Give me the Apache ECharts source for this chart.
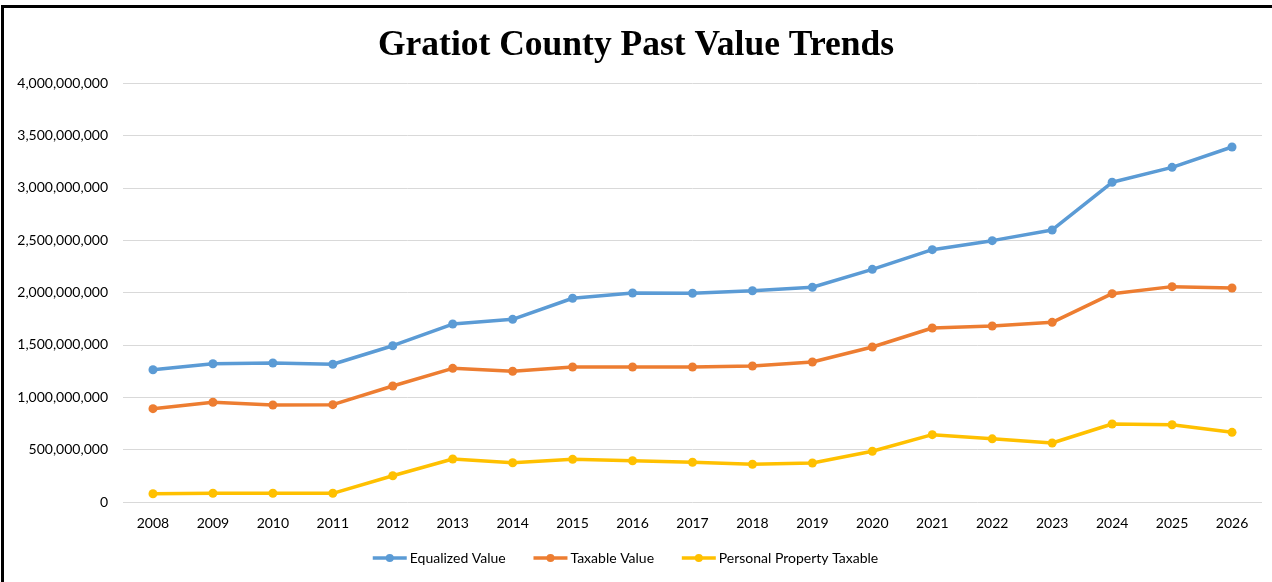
<!DOCTYPE html>
<html>
<head>
<meta charset="utf-8">
<script src="https://cdn.jsdelivr.net/npm/echarts@6/dist/echarts.min.js"></script>
<style>
  html, body { margin: 0; padding: 0; background: #fff; }
  #frame { position: absolute; left: 1px; top: 5px; width: 1300px; height: 600px; border-left: 3px solid #000; border-top: 3px solid #000; box-sizing: border-box; }
  #chart { position: absolute; left: 0; top: 0; width: 1272px; height: 582px; }
</style>
</head>
<body>
<div id="frame"></div>
<div id="chart"></div>
<script>
const years = ['2008', '2009', '2010', '2011', '2012', '2013', '2014', '2015', '2016', '2017',
  '2018', '2019', '2020', '2021', '2022', '2023', '2024', '2025', '2026'];

// values in dollars
const equalizedValue = [1263e6, 1320e6, 1327e6, 1315e6, 1492e6, 1699e6, 1744e6, 1945e6, 1995e6, 1993e6,
  2017e6, 2050e6, 2221e6, 2409e6, 2495e6, 2597e6, 3052e6, 3195e6, 3389e6];
const taxableValue = [891e6, 952e6, 926e6, 929e6, 1107e6, 1276e6, 1248e6, 1289e6, 1289e6, 1289e6,
  1298e6, 1337e6, 1480e6, 1661e6, 1680e6, 1715e6, 1989e6, 2056e6, 2043e6];
const personalProperty = [79e6, 83e6, 83e6, 83e6, 251e6, 410e6, 375e6, 407e6, 394e6, 379e6,
  360e6, 372e6, 484e6, 643e6, 603e6, 563e6, 745e6, 738e6, 665e6];

const seriesNames = ['Equalized Value', 'Taxable Value', 'Personal Property Taxable'];
const colors = ['#5B9BD5', '#ED7D31', '#FFC000'];

const myChart = echarts.init(document.getElementById('chart'));

const fmt = v => v.toLocaleString('en-US');
const labelFont = 'Lato, "Noto Sans", sans-serif';

const mkSeries = (name, data, color) => ({
  name,
  type: 'line',
  data,
  symbol: 'circle',
  symbolSize: 9,
  itemStyle: { color },
  lineStyle: { width: 3.5, color },
  emphasis: { disabled: true }
});

const option = {
  animation: false,
  title: {
    text: 'Gratiot County Past Value Trends',
    left: 'center',
    top: 23,
    textStyle: { fontFamily: '"Liberation Serif", "Times New Roman", serif', fontWeight: 'bold', fontSize: 35.5, color: '#000' }
  },
  legend: {
    data: seriesNames,
    top: 546,
    left: 366,
    itemWidth: 34,
    itemHeight: 10,
    itemGap: 26,
    lineStyle: { width: 3.5 },
    textStyle: { fontFamily: labelFont, fontSize: 14, color: '#000', padding: [0, 0, 0, -2] }
  },
  grid: { left: 123, right: 10, top: 83, bottom: 80 },
  xAxis: {
    type: 'category',
    data: years,
    boundaryGap: true,
    axisLine: { show: false },
    axisTick: { show: false },
    axisLabel: { color: '#000', fontFamily: labelFont, fontSize: 14, margin: 14 }
  },
  yAxis: {
    type: 'value',
    min: 0,
    max: 4e9,
    interval: 5e8,
    axisLine: { show: false },
    axisTick: { show: false },
    axisLabel: { color: '#000', fontFamily: labelFont, fontSize: 14, margin: 15, formatter: fmt },
    splitLine: { lineStyle: { color: '#d9d9d9', width: 1 } }
  },
  series: [
    mkSeries(seriesNames[0], equalizedValue, colors[0]),
    mkSeries(seriesNames[1], taxableValue, colors[1]),
    mkSeries(seriesNames[2], personalProperty, colors[2])
  ]
};

myChart.setOption(option);
window.addEventListener('resize', myChart.resize);
</script>
</body>
</html>
